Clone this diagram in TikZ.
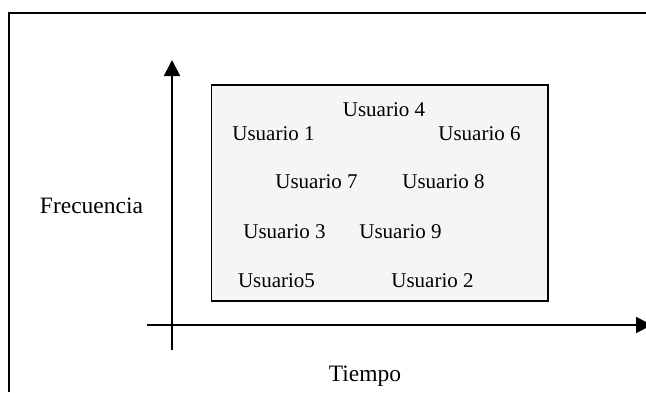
\documentclass[tikz,border=0pt]{standalone}
\usepackage{fontspec}
\setmainfont{Liberation Serif}
\usetikzlibrary{arrows.meta}

\tikzset{
  usr/.style={anchor=base, inner sep=0pt, font=\fontsize{21}{25}\selectfont},
  lbl/.style={anchor=base, inner sep=0pt, font=\fontsize{23.5}{28}\selectfont},
  axis/.style={line width=1.8pt, -{Triangle[length=16pt,width=16pt]}}
}

\begin{document}
\begin{tikzpicture}[x=1pt,y=-1pt]
\useasboundingbox (0,0) rectangle (646,392);
% frame
\draw[line width=1.5pt] (9,392) -- (9,13) -- (646,13);
% box with the users
\draw[line width=1.6pt, fill=black!4] (211.5,85) rectangle (548,301);
% axes
\coordinate (ybot) at (172,350); \coordinate (ytop) at (172,60);
\coordinate (xleft) at (147,325); \coordinate (xright) at (652,325);
\draw[axis] (ybot) -- (ytop);
\draw[axis] (xleft) -- (xright);
\node[usr] (u4) at (384,116) {Usuario 4};
\node[usr] (u1) at (273.5,140) {Usuario 1};
\node[usr] (u6) at (479.5,140) {Usuario 6};
\node[usr] (u7) at (316.5,188) {Usuario 7};
\node[usr] (u8) at (443.5,188) {Usuario 8};
\node[usr] (u3) at (284.5,238) {Usuario 3};
\node[usr] (u9) at (400.5,238) {Usuario 9};
\node[usr] (u5) at (276.5,287) {Usuario5};
\node[usr] (u2) at (432.5,287) {Usuario 2};
\node[lbl] (frec) at (91.5,213) {Frecuencia};
\node[lbl] (tiem) at (365,381) {Tiempo};
\end{tikzpicture}
\end{document}
